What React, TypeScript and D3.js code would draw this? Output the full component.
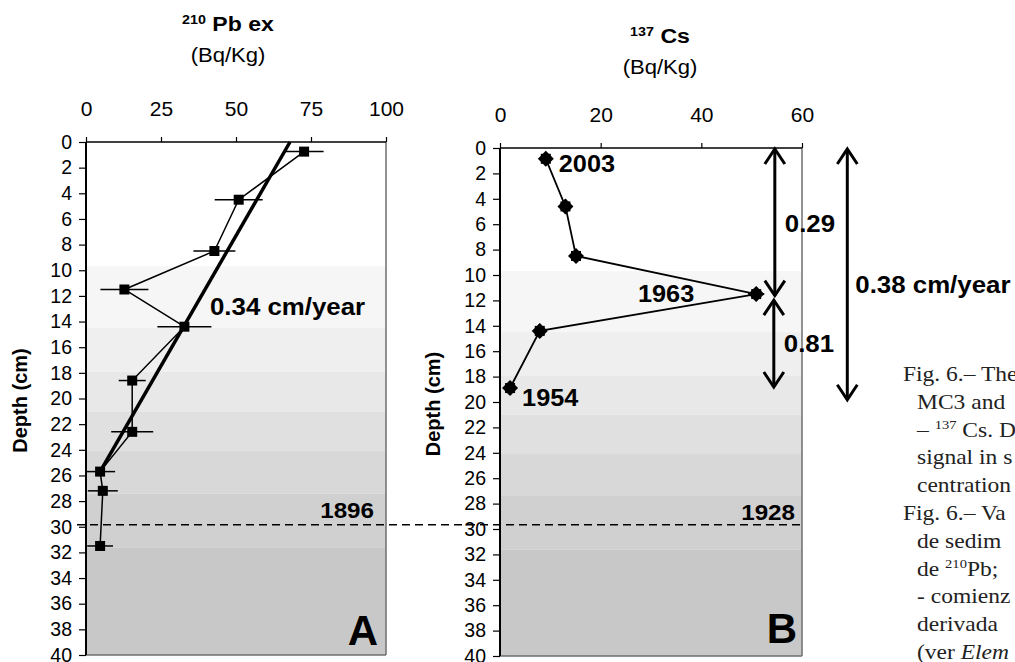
import React, { useEffect, useRef } from 'react';
import * as d3 from 'd3';

const WIDTH = 1015;
const HEIGHT = 662;
const SANS = 'Liberation Sans, Arial, sans-serif';
const SERIF = 'Liberation Serif, Times New Roman, serif';

// panel A: excess 210Pb (Bq/Kg) by depth (cm)
const pbDepth = [0.75, 4.5, 8.5, 11.5, 14.4, 18.6, 22.6, 25.7, 27.2, 31.5];
const pbValue = [72.7, 50.9, 42.8, 12.8, 32.8, 15.4, 15.4, 4.7, 5.6, 4.7];
const pbError = [6.5, 8, 7, 8, 9, 4.5, 7, 5, 5, 4.3];
// fitted line, 0.34 cm/year
const pbFitValue = [68, 4.7];
const pbFitDepth = [0, 25.7];

// panel B: 137Cs (Bq/Kg) by depth (cm)
const csDepth = [0.85, 4.6, 8.5, 11.5, 14.4, 18.9];
const csValue = [9.1, 13.0, 15.1, 50.9, 7.9, 2.0];
const csError = [1.2, 1.2, 1.3, 1.6, 1.3, 1.0];
const csYears = ['2003', '', '', '1963', '', '1954'];

// grey sediment layers behind both profiles
const layerTop = [0, 9.7, 14.5, 17.9, 21.0, 24.1, 27.4, 31.6];
const layerShade = ['#ffffff', '#f6f6f6', '#efefef', '#e8e8e8', '#e0e0e0', '#d8d8d8', '#d0d0d0', '#c8c8c8'];

const pbTicks = [0, 25, 50, 75, 100];
const csTicks = [0, 20, 40, 60];
const depthTicks = d3.range(0, 41, 2);

const datumDepth = 29.85;
const datumYears = ['1896', '1928'];

// rate arrows right of panel B (x in panel B units)
const arrowX = [54.6, 54.4, 69];
const arrowTop = [0, 11.9, 0];
const arrowBottom = [11.7, 18.9, 19.9];
const rateLabels = ['0.29', '0.81', '0.38 cm/year'];
const rateLabelDepth = [6.6, 16.1, 11.4];

const captionLines = [
  ['Fig. 6.– The'],
  ['MC3 and'],
  ['– ', '^137', ' Cs. D'],
  ['signal in s'],
  ['centration'],
  ['Fig. 6.– Va'],
  ['de sedim'],
  ['de ', '^210', 'Pb;'],
  ['- comienz'],
  ['derivada'],
  ['(ver ', '_Elem'],
];

const App = () => {
  const svgRef = useRef<SVGSVGElement>(null);

  useEffect(() => {
    const svg = d3.select(svgRef.current);
    svg.selectAll('*').remove();

    const xA = d3.scaleLinear().domain([0, 100]).range([86, 386]);
    const yA = d3.scaleLinear().domain([0, 40]).range([142, 655]);
    const xB = d3.scaleLinear().domain([0, 60]).range([500, 802]);
    const yB = d3.scaleLinear().domain([0, 40]).range([148, 656]);

    const label = (g, x, y, str, size, anchor = 'start', weight = 'bold', sx = 1.1) =>
      g.append('text')
        .attr('transform', `translate(${x},${y}) scale(${sx},1)`)
        .attr('font-family', SANS)
        .attr('font-size', size)
        .attr('font-weight', weight)
        .attr('text-anchor', anchor)
        .text(str);

    const drawPanel = (x, y, ticks, depthLabelX) => {
      const [x0, x1] = x.range();
      const [y0, y1] = y.range();
      const g = svg.append('g');

      g.selectAll('rect.layer')
        .data(layerTop)
        .join('rect')
        .attr('class', 'layer')
        .attr('x', x0)
        .attr('width', x1 - x0)
        .attr('y', (d) => y(d))
        .attr('height', (d, i) => y(i < layerTop.length - 1 ? layerTop[i + 1] : 40) - y(d))
        .attr('fill', (d, i) => layerShade[i]);

      g.append('line').attr('x1', x1).attr('x2', x1).attr('y1', y0).attr('y2', y1)
        .attr('stroke', '#6e6e6e').attr('stroke-width', 1.5);
      g.append('line').attr('x1', x0).attr('x2', x1).attr('y1', y1).attr('y2', y1)
        .attr('stroke', '#6e6e6e').attr('stroke-width', 1.5);
      g.append('line').attr('x1', x0).attr('x2', x1).attr('y1', y0).attr('y2', y0)
        .attr('stroke', '#000').attr('stroke-width', 1.5);
      g.append('line').attr('x1', x0).attr('x2', x0).attr('y1', y0).attr('y2', y1)
        .attr('stroke', '#000').attr('stroke-width', 2);

      const top = g.append('g')
        .attr('transform', `translate(0,${y0})`)
        .call(d3.axisTop(x).tickValues(ticks).tickSize(5).tickPadding(21));
      top.select('.domain').remove();
      top.selectAll('line').attr('stroke', '#000').attr('stroke-width', 1.2);
      top.selectAll('text').attr('font-family', SANS).attr('font-size', 21).attr('fill', '#000');

      const left = g.append('g')
        .attr('transform', `translate(${x0},0)`)
        .call(d3.axisLeft(y).tickValues(depthTicks).tickSize(7).tickPadding(7));
      left.select('.domain').remove();
      left.selectAll('line').attr('stroke', '#000').attr('stroke-width', 1.2);
      left.selectAll('text').attr('font-family', SANS).attr('font-size', 19.5).attr('fill', '#000');

      g.append('text')
        .attr('transform', `translate(${depthLabelX},${(y0 + y1) / 2 + 2}) rotate(-90)`)
        .attr('text-anchor', 'middle')
        .attr('dy', '0.35em')
        .attr('font-family', SANS)
        .attr('font-size', 20)
        .attr('font-weight', 'bold')
        .text('Depth (cm)');
      return g;
    };

    const title = (cx, y, iso, el) => {
      const t = svg.append('text')
        .attr('transform', `translate(${cx},${y}) scale(1.1,1)`)
        .attr('text-anchor', 'middle')
        .attr('font-family', SANS)
        .attr('font-weight', 'bold');
      t.append('tspan').attr('font-size', 13).attr('dy', -7).text(iso);
      t.append('tspan').attr('font-size', 21).attr('dy', 7).text(' ' + el);
      label(svg, cx, y + 31, '(Bq/Kg)', 21, 'middle', 'normal', 1.05);
    };

    // ---- panel A
    const gA = drawPanel(xA, yA, pbTicks, 20);
    title(228, 31, '210', 'Pb ex');

    const line = d3.line();
    gA.append('path')
      .attr('d', line(pbValue.map((v, i) => [xA(v), yA(pbDepth[i])])))
      .attr('fill', 'none').attr('stroke', '#000').attr('stroke-width', 1.5);
    gA.append('path')
      .attr('d', line(pbFitValue.map((v, i) => [xA(v), yA(pbFitDepth[i])])))
      .attr('fill', 'none').attr('stroke', '#000').attr('stroke-width', 3.5);
    gA.selectAll('line.err')
      .data(pbValue)
      .join('line')
      .attr('class', 'err')
      .attr('x1', (d, i) => xA(d - pbError[i]))
      .attr('x2', (d, i) => xA(d + pbError[i]))
      .attr('y1', (d, i) => yA(pbDepth[i]))
      .attr('y2', (d, i) => yA(pbDepth[i]))
      .attr('stroke', '#000').attr('stroke-width', 1.5);
    gA.selectAll('rect.pt')
      .data(pbValue)
      .join('rect')
      .attr('class', 'pt')
      .attr('x', (d) => xA(d) - 5)
      .attr('y', (d, i) => yA(pbDepth[i]) - 5)
      .attr('width', 10).attr('height', 10)
      .attr('fill', '#000');
    label(gA, 210, 315, '0.34 cm/year', 23.5);
    label(gA, 374, yA(datumDepth) - 7, datumYears[0], 22, 'end');
    label(gA, 378, 645, 'A', 42, 'end', 'bold', 1.0);

    // ---- panel B
    const gB = drawPanel(xB, yB, csTicks, 433);
    title(660, 43, '137', 'Cs');

    gB.append('path')
      .attr('d', line(csValue.map((v, i) => [xB(v), yB(csDepth[i])])))
      .attr('fill', 'none').attr('stroke', '#000').attr('stroke-width', 1.8);
    const marks = gB.selectAll('g.pt')
      .data(csValue)
      .join('g')
      .attr('class', 'pt')
      .attr('transform', (d, i) => `translate(${xB(d)},${yB(csDepth[i])})`);
    marks.append('path').attr('d', 'M0,-8L8,0L0,8L-8,0Z').attr('fill', '#000');
    marks.append('rect').attr('x', -5).attr('y', -5).attr('width', 10).attr('height', 10).attr('fill', '#000');
    marks.append('line')
      .attr('x1', (d, i) => xB(d - csError[i]) - xB(d))
      .attr('x2', (d, i) => xB(d + csError[i]) - xB(d))
      .attr('stroke', '#000').attr('stroke-width', 2);
    marks.append('line').attr('y1', -7).attr('y2', 7).attr('stroke', '#000').attr('stroke-width', 2);

    const yearDx = [13, -62, 12];
    const yearDy = [13, 8, 18];
    csYears.filter((s) => s).forEach((s, k) => {
      const i = csYears.indexOf(s);
      const anchor = yearDx[k] < 0 ? 'end' : 'start';
      label(gB, xB(csValue[i]) + yearDx[k], yB(csDepth[i]) + yearDy[k], s, 23, anchor);
    });
    label(gB, 795, yB(datumDepth) - 7, datumYears[1], 22, 'end');
    label(gB, 797, 643, 'B', 42, 'end', 'bold', 1.0);

    // dated horizon across both panels
    svg.append('line')
      .attr('x1', xA(0) - 9).attr('x2', xB(60))
      .attr('y1', yA(datumDepth)).attr('y2', yA(datumDepth))
      .attr('stroke', '#000').attr('stroke-width', 1.5)
      .attr('stroke-dasharray', '8,5');

    // accumulation-rate arrows
    arrowX.forEach((v, i) => {
      const ax = xB(v);
      const ya = yB(arrowTop[i]);
      const yb = yB(arrowBottom[i]);
      const g = svg.append('g').attr('fill', 'none').attr('stroke', '#000').attr('stroke-width', 3);
      g.append('line').attr('x1', ax).attr('x2', ax).attr('y1', ya + 1).attr('y2', yb - 1);
      g.append('path').attr('d', `M${ax - 10},${ya + 16}L${ax},${ya + 1}L${ax + 10},${ya + 16}`);
      g.append('path').attr('d', `M${ax - 10},${yb - 16}L${ax},${yb - 1}L${ax + 10},${yb - 16}`);
      label(svg, ax + (i < 2 ? 10 : 8), yB(rateLabelDepth[i]), rateLabels[i], 23.5);
    });

    // caption text beside the figure
    const cap = svg.append('g').attr('font-family', SERIF).attr('fill', '#222');
    captionLines.forEach((parts, i) => {
      const t = cap.append('text')
        .attr('transform', `translate(${i === 0 || i === 5 ? 903 : 917},${381 + i * 27.8}) scale(1.12,1)`)
        .attr('font-size', 21);
      let lift = 0;
      parts.forEach((p) => {
        if (p.startsWith('^')) {
          t.append('tspan').attr('font-size', 13).attr('dy', -8).text(p.slice(1));
          lift = 8;
        } else {
          const s = t.append('tspan').attr('dy', lift).text(p.startsWith('_') ? p.slice(1) : p);
          if (p.startsWith('_')) s.attr('font-style', 'italic');
          lift = 0;
        }
      });
    });
  }, []);

  return (
    <svg
      ref={svgRef}
      width={WIDTH}
      height={HEIGHT}
      style={{ position: 'absolute', left: 0, top: 0, background: '#fff' }}
    />
  );
};

export default App;
